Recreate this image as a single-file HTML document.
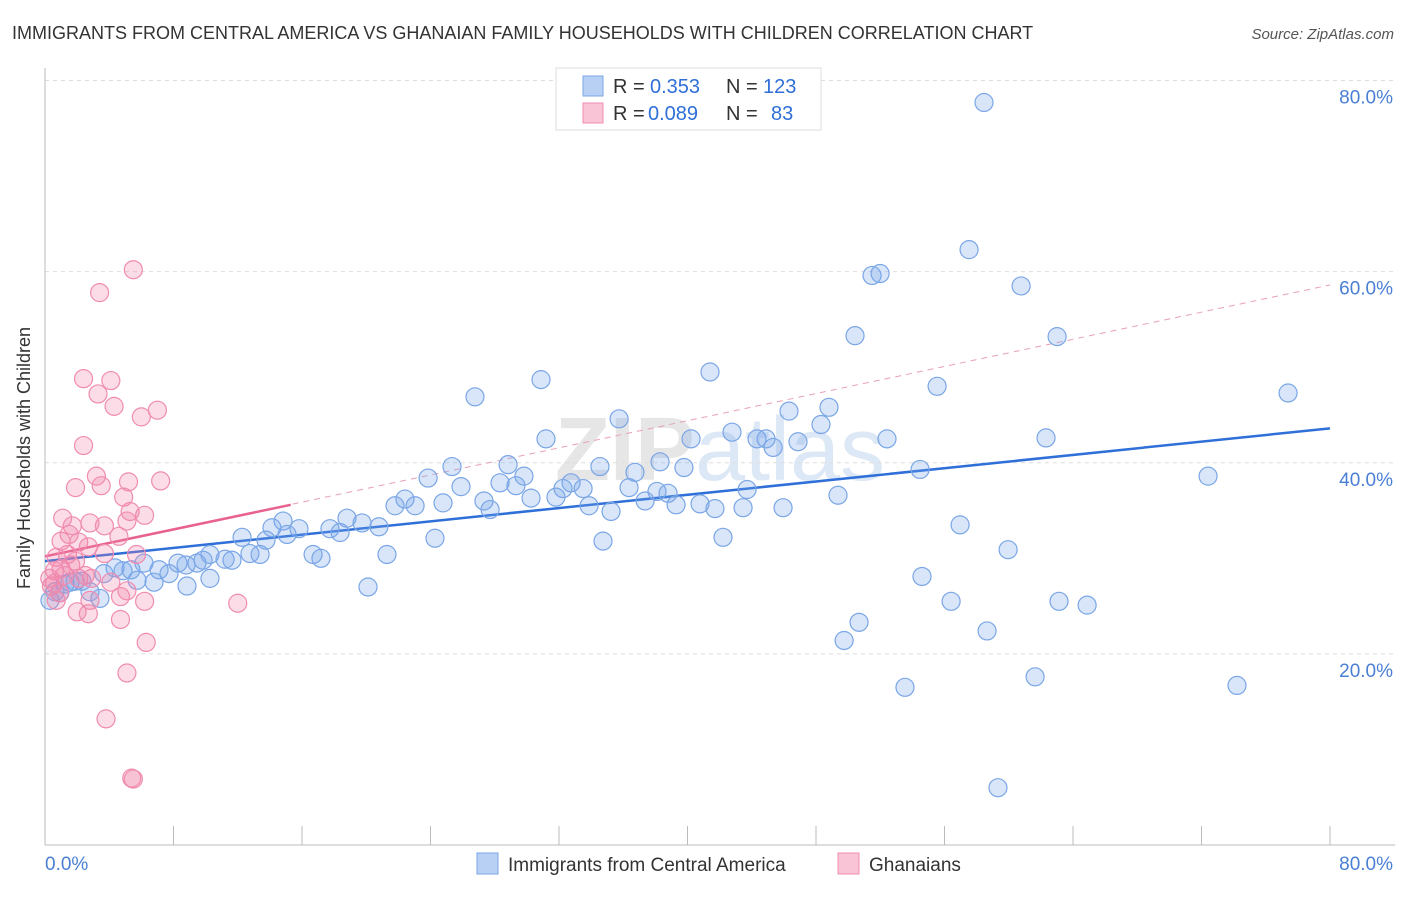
<!DOCTYPE html>
<html><head><meta charset="utf-8"><style>
body{margin:0;background:#fff;font-family:"Liberation Sans",sans-serif;}
svg text{font-family:"Liberation Sans",sans-serif;}
</style></head><body>
<svg id="chart" width="1406" height="892">
<text x="12" y="39" font-size="18" fill="#333">IMMIGRANTS FROM CENTRAL AMERICA VS GHANAIAN FAMILY HOUSEHOLDS WITH CHILDREN CORRELATION CHART</text>
<text x="1394" y="39" font-size="15" fill="#555" font-style="italic" text-anchor="end">Source: ZipAtlas.com</text>
<text x="720" y="480" font-size="90" fill="#e6e6e6" text-anchor="middle" font-weight="bold">ZIP<tspan fill="#dde8f6" font-weight="normal">atlas</tspan></text>
<g id="grid"></g><g id="axes"></g><g id="lines"></g><g id="pts"></g>
<text x="30" y="458" font-size="18" fill="#333" text-anchor="middle" transform="rotate(-90 30 458)">Family Households with Children</text>
<g>
<rect x="556" y="68" width="265" height="62" fill="#fff" stroke="#ddd"/>
<rect x="583" y="76" width="20" height="20" fill="#b8d0f4" stroke="#7aa6e6"/>
<rect x="583" y="103" width="20" height="20" fill="#f9c4d6" stroke="#f08cb0"/>
<text x="613" y="93" font-size="20" fill="#333">R =</text>
<text x="650" y="93" font-size="20" fill="#2f6fd8">0.353</text>
<text x="726" y="93" font-size="20" fill="#333">N =</text>
<text x="763" y="93" font-size="20" fill="#2f6fd8">123</text>
<text x="613" y="120" font-size="20" fill="#333">R =</text>
<text x="648" y="120" font-size="20" fill="#2f6fd8">0.089</text>
<text x="726" y="120" font-size="20" fill="#333">N =</text>
<text x="771" y="120" font-size="20" fill="#2f6fd8">83</text>
</g>
<g>
<rect x="477" y="853" width="21" height="21" fill="#b8d0f4" stroke="#7aa6e6"/>
<text x="508" y="871" font-size="19" fill="#333">Immigrants from Central America</text>
<rect x="838" y="853" width="21" height="21" fill="#f9c4d6" stroke="#f08cb0"/>
<text x="869" y="871" font-size="19" fill="#333">Ghanaians</text>
</g>
</svg>
<script>
const xTicks=[0,10,20,30,40,50,60,70,80];
const yTicks=[20,40,60,80];
const blueX=[58.46,57.53,60.77,51.99,51.49,50.43,63.01,41.40,30.88,26.77,55.54,77.39,48.81,46.32,35.74,48.31,31.19,42.77,40.22,44.33,44.89,46.88,52.42,62.32,45.33,72.41,38.29,34.55,28.83,25.34,23.85,36.73,39.78,54.48,32.75,32.25,28.33,29.32,29.82,25.90,33.50,36.36,43.71,38.10,38.79,49.37,27.33,24.78,22.41,27.71,30.26,31.81,33.87,37.36,39.29,40.78,41.71,43.46,45.95,35.24,21.79,23.04,18.80,19.74,20.79,14.82,14.13,15.81,17.74,18.37,15.07,12.27,13.76,24.28,34.74,42.21,56.97,59.96,21.29,12.76,11.64,13.39,16.69,17.18,10.27,9.84,9.46,11.21,8.78,8.28,6.16,4.36,5.35,7.10,7.72,3.67,5.73,4.86,6.79,8.84,10.27,1.56,2.30,0.93,0.31,0.62,2.80,3.42,20.11,54.60,56.41,63.13,64.88,50.68,49.75,58.65,61.64,53.54,74.21,59.33,1.87,1.25];
const blueY=[77.7,62.3,58.5,59.8,59.6,53.3,53.2,49.5,48.7,46.9,48.0,47.3,45.8,45.4,44.6,44.0,42.5,43.2,42.5,42.5,42.5,42.2,42.5,42.6,41.6,38.6,40.1,39.6,39.8,39.6,38.4,39.0,39.5,39.3,37.9,37.3,37.9,37.6,38.6,37.5,37.3,37.4,37.2,37.0,36.8,36.6,36.0,35.8,36.2,35.1,36.3,36.4,35.5,36.0,35.6,35.7,35.2,35.3,35.3,34.9,35.5,35.5,34.2,33.7,33.3,33.9,33.2,33.1,33.1,32.7,32.5,32.2,31.9,32.1,31.8,32.2,33.5,30.9,30.4,30.5,29.8,30.4,30.4,30.0,30.4,29.8,29.5,29.9,29.3,29.5,29.5,29.0,28.8,28.8,28.4,28.4,27.7,28.7,27.5,27.1,27.9,27.5,27.6,26.4,25.6,26.5,26.5,25.8,27.0,28.1,25.5,25.5,25.1,23.3,21.4,22.4,17.6,16.5,16.7,6.0,27.6,27.3];
const pinkX=[5.5,3.4,2.4,4.1,3.3,4.3,7.0,6.0,2.4,3.2,1.9,3.5,7.2,5.2,4.9,5.3,6.2,5.1,1.1,2.8,1.7,3.7,1.5,4.6,1.0,2.1,2.7,3.7,5.7,1.4,0.7,1.9,1.0,0.6,1.2,2.1,2.9,4.1,0.4,0.9,2.8,4.7,5.1,6.2,12.0,2.7,2.0,4.7,6.3,5.1,3.8,5.4,5.5,0.7,0.3,1.6,2.5,0.6];
const pinkY=[60.2,57.8,48.8,48.6,47.2,45.9,45.5,44.8,41.8,38.6,37.4,37.6,38.1,38.0,36.4,34.9,34.5,33.9,34.2,33.7,33.4,33.4,32.5,32.3,31.8,31.7,31.2,30.5,30.4,30.4,30.1,29.7,28.9,28.7,28.2,27.9,27.9,27.5,27.1,26.4,25.6,26.0,26.6,25.5,25.3,24.2,24.4,23.6,21.2,18.0,13.2,7.0,6.9,25.6,27.9,29.3,28.2,27.4];
const X0=45,X1=1330,YB=845,YT=80.5;
const sx=v=>X0+(X1-X0)*v/80, sy=v=>YB-(YB-YT)*v/80;
const NS="http://www.w3.org/2000/svg";
function mk(p,t,a){const e=document.createElementNS(NS,t);for(const k in a)e.setAttribute(k,a[k]);document.getElementById(p).appendChild(e);return e;}
for(const t of yTicks){
 const l=mk('grid','line',{x1:X0,x2:1395,y1:sy(t),y2:sy(t),stroke:'#ddd','stroke-dasharray':'4 4'});
 
 
 const tx=mk('grid','text',{x:1393,y:sy(t)+23,'font-size':19,fill:'#4a7fd4','text-anchor':'end'});
 tx.textContent=t.toFixed(1)+'%';
 
 
}
const ax=mk('axes','line',{x1:X0,x2:X0,y1:68,y2:YB,stroke:'#bbb'});


const bx=mk('axes','line',{x1:X0,x2:1395,y1:YB,y2:YB,stroke:'#bbb'});


for(let i=0;i<=10;i++){const v=i*8;
 const tk=mk('axes','line',{x1:sx(v),x2:sx(v),y1:826,y2:YB,stroke:'#bbb'});
 
 }
const xl0=mk('axes','text',{x:45,y:870,'font-size':19,fill:'#4a7fd4'});xl0.textContent=xTicks[0].toFixed(1)+'%';


const xl1=mk('axes','text',{x:1393,y:870,'font-size':19,fill:'#4a7fd4','text-anchor':'end'});xl1.textContent=xTicks[8].toFixed(1)+'%';


function draw(xs,ys,fill,stroke,name){for(let i=0;i<xs.length;i++){
 const c=mk('pts','circle',{cx:sx(xs[i]),cy:sy(ys[i]),r:9,fill:fill,stroke:stroke,'stroke-width':1.2});
 
 }}
draw(blueX,blueY,'rgba(120,165,235,0.28)','#7aa6e6','blue-point');
draw(pinkX,pinkY,'rgba(240,130,170,0.28)','#f08cb0','pink-point');
const bl=mk('lines','line',{x1:sx(0),y1:sy(29.7),x2:sx(80),y2:sy(43.6),stroke:'#2f6fd8','stroke-width':2.5});


const pd=mk('lines','line',{x1:sx(0),y1:sy(30.2),x2:sx(80),y2:sy(58.6),stroke:'#e8a0b8','stroke-width':1,'stroke-dasharray':'6 5'});


const pl=mk('lines','line',{x1:sx(0),y1:sy(30.2),x2:sx(15.3),y2:sy(35.6),stroke:'#e8618f','stroke-width':2.5});


</script>
</body></html>
